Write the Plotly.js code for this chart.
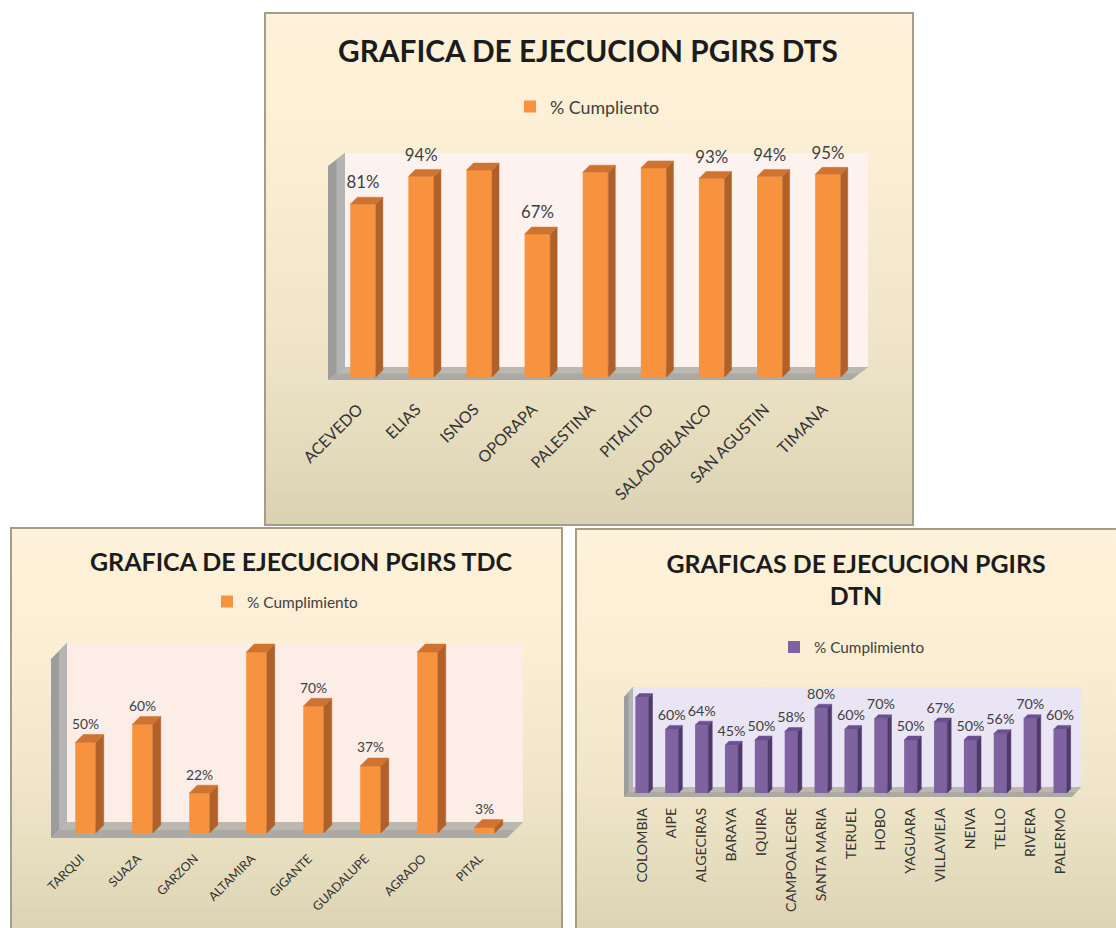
<!DOCTYPE html>
<html>
<head>
<meta charset="utf-8">
<script src="https://cdn.plot.ly/plotly-3.0.1.min.js"></script>
<style>
html,body{margin:0;padding:0;background:#ffffff;overflow:hidden;width:1116px;height:928px;}
.panel{position:absolute;box-sizing:border-box;border:2px solid #a69d89;
 background:linear-gradient(to bottom,#fef2da 0%,#fbeed3 30%,#f1e6c9 60%,#e4dbbd 85%,#dbd2b3 100%);}
.plot{position:absolute;left:0;top:0;}
</style>
</head>
<body>
<div class="panel" style="left:264px;top:12px;width:650px;height:514px;"><div id="dts" class="plot"></div></div>
<div class="panel" style="left:10px;top:527px;width:553px;height:412px;"><div id="tdc" class="plot"></div></div>
<div class="panel" style="left:575px;top:528px;width:548px;height:412px;"><div id="dtn" class="plot"></div></div>
<script>
// ---------------- DATA ----------------
const dtsTitle = "GRAFICA DE EJECUCION PGIRS DTS";
const dtsSeries = "% Cumpliento";
const dtsCategories = ["ACEVEDO","ELIAS","ISNOS","OPORAPA","PALESTINA","PITALITO","SALADOBLANCO","SAN AGUSTIN","TIMANA"];
const dtsValues = [81, 94, 97, 67, 96, 98, 93, 94, 95];

const tdcTitle = "GRAFICA DE EJECUCION PGIRS TDC";
const tdcSeries = "% Cumplimiento";
const tdcCategories = ["TARQUI","SUAZA","GARZON","ALTAMIRA","GIGANTE","GUADALUPE","AGRADO","PITAL"];
const tdcValues = [50, 60, 22, 100, 70, 37, 100, 3];

const dtnTitleLines = ["GRAFICAS DE EJECUCION PGIRS", "DTN"];
const dtnSeries = "% Cumplimiento";
const dtnCategories = ["COLOMBIA","AIPE","ALGECIRAS","BARAYA","IQUIRA","CAMPOALEGRE","SANTA MARIA","TERUEL","HOBO","YAGUARA","VILLAVIEJA","NEIVA","TELLO","RIVERA","PALERMO"];
const dtnValues = [90, 60, 64, 45, 50, 58, 80, 60, 70, 50, 67, 50, 56, 70, 60];

// ---------------- DRAWING ----------------
const FONT = "Lato, 'Open Sans', sans-serif";
const ORANGE = {front:"#f7923f", side:"#b0612a", top:"#cf7330"};
const PURPLE = {front:"#7f63a1", side:"#4e3a6a", top:"#6a5090"};

const mctx = document.createElement("canvas").getContext("2d");
function fit(text, weight, target){
  mctx.font = weight + " 100px Lato";
  return Math.round(1000 * target / mctx.measureText(text).width) / 10;
}

function draw(cfg){
  const B = 2;
  const ox = cfg.panel[0] + B, oy = cfg.panel[1] + B;
  const W = cfg.panel[2] - 2*B, H = cfg.panel[3] - 2*B;
  const px0 = cfg.plot[0], py0 = cfg.plot[1], px1 = cfg.plot[2], py1 = cfg.plot[3];
  const pw = px1 - px0, ph = py1 - py0;
  const l = px0 - ox, t = py0 - oy, r = W - (px1 - ox), b = H - (py1 - oy);
  const X = p => (p - px0) / pw;
  const Y = p => (py1 - p) / ph;
  const P = (x, y) => X(x).toFixed(5) + "," + Y(y).toFixed(5);
  const n = cfg.cats.length;
  const idx = cfg.cats.map((c, i) => i);
  const ux = pw / n, uy = ph / cfg.yMax;
  const sx = cfg.side / ux, sy = cfg.side / uy;
  const hw = cfg.barW / 2;
  const sideX = [], sideY = [], topX = [], topY = [];
  cfg.vals.forEach((v, i) => {
    sideX.push(i+hw, i+hw, i+hw+sx, i+hw+sx, i+hw, null);
    sideY.push(0, v, v+sy, sy, 0, null);
    topX.push(i-hw, i+hw, i+hw+sx, i-hw+sx, i-hw, null);
    topY.push(v, v, v+sy, v+sy, v, null);
  });
  const gap = cfg.labelGap / uy;

  const traces = [
    {type:"scatter", mode:"lines", x:sideX, y:sideY, fill:"toself", fillcolor:cfg.col.side,
     line:{width:0.5, color:cfg.col.side}, hoverinfo:"skip", showlegend:false, cliponaxis:false},
    {type:"scatter", mode:"lines", x:topX, y:topY, fill:"toself", fillcolor:cfg.col.top,
     line:{width:0.5, color:cfg.col.top}, hoverinfo:"skip", showlegend:false, cliponaxis:false},
    {type:"bar", x:idx, y:cfg.vals, width:cfg.barW, name:cfg.series,
     marker:{color:cfg.col.front, line:{width:0}}, hoverinfo:"skip", showlegend:true},
    {type:"scatter", mode:"text", x:idx, y:cfg.vals.map(v => v + gap),
     text:cfg.vals.map(v => v + "%"), textposition:"middle center",
     textfont:{family:FONT, size:cfg.labelSize, color:"#404040"},
     hoverinfo:"skip", showlegend:false, cliponaxis:false}
  ];

  const fdx = cfg.front[0], fdy = cfg.front[1], bdx = cfg.back[0], bdy = cfg.back[1];
  const wt = py0 - cfg.wallTop;
  const mdx = (fdx + bdx) / 2, mdy = (fdy - bdy) / 2;
  const shapes = [
    {type:"rect", xref:"paper", yref:"paper", x0:X(px0+bdx), x1:X(px1+bdx), y0:Y(py1-bdy), y1:Y(wt),
     fillcolor:cfg.wall, line:{width:0}, layer:"below"},
    {type:"path", xref:"paper", yref:"paper", layer:"below", fillcolor:"#aaa9a4", line:{width:0},
     path:"M"+P(px0+fdx,py1+fdy)+"L"+P(px1+fdx,py1+fdy)+"L"+P(px1+bdx,py1-bdy)+"L"+P(px0+bdx,py1-bdy)+"Z"},
    {type:"path", xref:"paper", yref:"paper", layer:"below", fillcolor:"#bab8b1", line:{width:0},
     path:"M"+P(px0+mdx,py1+mdy)+"L"+P(px1+mdx,py1+mdy)+"L"+P(px1+bdx,py1-bdy)+"L"+P(px0+bdx,py1-bdy)+"Z"},
    {type:"path", xref:"paper", yref:"paper", layer:"below", fillcolor:"#9c9c9c", line:{width:0},
     path:"M"+P(px0+fdx,py1+fdy)+"L"+P(px0+bdx,py1-bdy)+"L"+P(px0+bdx,wt)+"L"+P(px0+fdx,wt+fdy+bdy)+"Z"},
    {type:"path", xref:"paper", yref:"paper", layer:"below", fillcolor:"#b4b4b4", line:{width:0},
     path:"M"+P(px0+mdx,py1+mdy)+"L"+P(px0+bdx,py1-bdy)+"L"+P(px0+bdx,wt)+"L"+P(px0+mdx,wt+mdy+bdy)+"Z"}
  ];

  const layout = {
    width:W, height:H,
    margin:{l:l, r:r, t:t, b:b, pad:0},
    paper_bgcolor:"rgba(0,0,0,0)", plot_bgcolor:"rgba(0,0,0,0)",
    title:{text:cfg.title, font:{family:FONT, size:cfg.titleSize, color:"#1c1c1c", weight:"bold"},
      xref:"container", yref:"container", x:(cfg.titlePos[0]-ox)/W, y:1-(cfg.titlePos[1]-oy)/H,
      xanchor:"center", yanchor:"middle"},
    showlegend:true,
    legend:{orientation:"h", x:X(cfg.legendPos[0]), xanchor:"left", y:Y(cfg.legendPos[1]), yanchor:"middle",
      bgcolor:"rgba(0,0,0,0)", font:{family:FONT, size:cfg.legendSize, color:"#404040"}},
    xaxis:{range:[-0.5, n-0.5], tickmode:"array", tickvals:idx, ticktext:cfg.cats,
      tickangle:cfg.tickAngle, tickfont:{family:FONT, size:cfg.tickSize, color:"#333333"},
      showgrid:false, zeroline:false, showline:false, ticks:"", ticklabelstandoff:cfg.standoff,
      ticklabelshift:cfg.shift, fixedrange:true},
    yaxis:{range:[0, cfg.yMax], visible:false, fixedrange:true},
    shapes:shapes
  };
  Plotly.newPlot(cfg.id, traces, layout, {displayModeBar:false, staticPlot:true});
}

draw({id:"dts", title:dtsTitle, series:dtsSeries, cats:dtsCategories, vals:dtsValues,
  panel:[264,12,650,514], plot:[334,153,857,377], yMax:105, barW:0.44, side:7,
  front:[-6,3], back:[11,10], wallTop:0, wall:"#fdf2ee", col:ORANGE,
  titleSize:fit(dtsTitle, "bold", 501), titlePos:[588,52],
  legendPos:[510,107], legendSize:fit(dtsSeries, "normal", 109),
  labelSize:fit("81%", "normal", 33), labelGap:20,
  tickSize:fit("SALADOBLANCO", "normal", 128), tickAngle:-45, standoff:19, shift:-5});

draw({id:"tdc", title:tdcTitle, series:tdcSeries, cats:tdcCategories, vals:tdcValues,
  panel:[10,527,553,412], plot:[57,643,513,833], yMax:105, barW:0.36, side:8,
  front:[-6,5], back:[10,11], wallTop:0, wall:"#fcede7", col:ORANGE,
  titleSize:fit(tdcTitle, "bold", 424), titlePos:[301,562],
  legendPos:[207,602], legendSize:fit(tdcSeries, "normal", 111),
  labelSize:fit("100%", "normal", 35), labelGap:17,
  tickSize:fit("GUADALUPE", "normal", 74), tickAngle:-45, standoff:15, shift:-5});

draw({id:"dtn", title:dtnTitleLines.join("<br>"), series:dtnSeries, cats:dtnCategories, vals:dtnValues,
  panel:[575,528,548,412], plot:[627,687,1075,793], yMax:100, barW:0.44, side:4,
  front:[-3,4], back:[6,6], wallTop:0, wall:"#e9e5f5", col:PURPLE,
  titleSize:fit(dtnTitleLines[0], "bold", 380), titlePos:[856,573],
  legendPos:[774,647], legendSize:fit(dtnSeries, "normal", 110),
  labelSize:fit("60%", "normal", 28), labelGap:13,
  tickSize:fit("CAMPOALEGRE", "normal", 104), tickAngle:-90, standoff:11, shift:0});
</script>
</body>
</html>
